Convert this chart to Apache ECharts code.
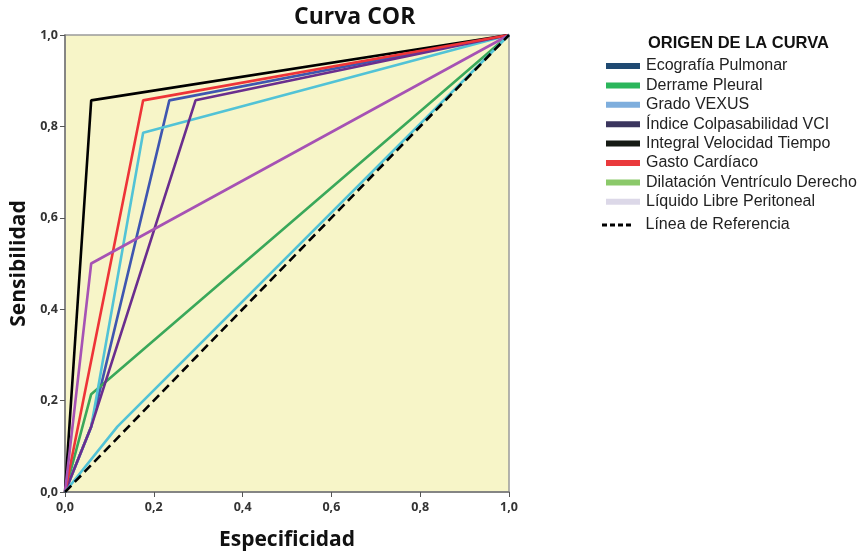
<!DOCTYPE html>
<html>
<head>
<meta charset="utf-8">
<script src="https://cdn.jsdelivr.net/npm/echarts@6/dist/echarts.min.js"></script>
<style>
  html, body { margin: 0; padding: 0; background: #fff; }
  #chart { width: 866px; height: 556px; }
</style>
</head>
<body>
<div id="chart"></div>
<script>
// puntos [1 - especificidad, sensibilidad]
const ecografiaPulmonar = [[0, 0], [0.059, 0.143], [0.235, 0.857], [1, 1]];
const derramePleural = [[0, 0], [0.059, 0.214], [1, 1]];
const gradoVexus = [[0, 0], [0.059, 0.143], [0.176, 0.786], [1, 1]];
const indiceVci = [[0, 0], [0.059, 0.143], [0.294, 0.857], [1, 1]];
const integralVelTiempo = [[0, 0], [0.059, 0.857], [1, 1]];
const gastoCardiaco = [[0, 0], [0.176, 0.857], [1, 1]];
const dilatacionVD = [[0, 0], [0.059, 0.5], [1, 1]];
const liquidoPeritoneal = [[0, 0], [0.118, 0.143], [1, 1]];
const lineaReferencia = [[0, 0], [1, 1]];

const axisTicks = [0, 0.2, 0.4, 0.6, 0.8, 1];

// nombre, datos, color de la linea, color de la leyenda
const curvas = [
    ['Ecografía Pulmonar', ecografiaPulmonar, '#3f56b0', '#1f4a72'],
    ['Derrame Pleural', derramePleural, '#3aa85a', '#2bb65b'],
    ['Grado VEXUS', gradoVexus, '#52c3d6', '#7eaedd'],
    ['Índice Colpasabilidad VCI', indiceVci, '#6a2e8e', '#3b355e'],
    ['Integral Velocidad Tiempo', integralVelTiempo, '#000000', '#151a14'],
    ['Gasto Cardíaco', gastoCardiaco, '#ee3438', '#ea3a3c'],
    ['Dilatación Ventrículo Derecho', dilatacionVD, '#a652b4', '#8bc96a'],
    ['Líquido Libre Peritoneal', liquidoPeritoneal, '#52c3d6', '#dcd8e8']
];

const chart = echarts.init(document.getElementById('chart'));

const fmt = v => v.toFixed(1).replace('.', ',');

const series = curvas.map(c => ({
    name: c[0],
    type: 'line',
    data: c[1],
    showSymbol: false,
    symbol: 'none',
    lineStyle: { color: c[2], width: 2.6 },
    itemStyle: { color: c[2] },
    animation: false
}));
series.push({
    name: 'Línea de Referencia',
    type: 'line',
    data: lineaReferencia,
    symbol: 'none',
    z: 5,
    lineStyle: { color: '#000', width: 2.6, type: [9, 5] },
    itemStyle: { color: '#000' },
    animation: false
});

const option = {
    animation: false,
    title: {
        text: 'Curva COR',
        left: 289,
        top: 1,
        textStyle: { fontFamily: 'Open Sans', fontWeight: 'bold', fontSize: 23, color: '#111' }
    },
    graphic: [{
        type: 'text',
        left: 648,
        top: 35,
        style: { text: 'ORIGEN DE LA CURVA', fontFamily: 'Liberation Sans', fontWeight: 'bold', fontSize: 16.5, fill: '#111' }
    }],
    legend: [{
        orient: 'vertical',
        left: 601,
        top: 53,
        itemWidth: 34,
        itemHeight: 6,
        itemGap: 3.4,
        icon: 'rect',
        selectedMode: false,
        textStyle: { fontFamily: 'Liberation Sans', fontSize: 16, color: '#222', padding: [0, 0, 0, 1] },
        data: curvas.map(c => ({ name: c[0], itemStyle: { color: c[3] }, lineStyle: { width: 0 } }))
    }, {
        orient: 'vertical',
        left: 597,
        top: 212,
        itemWidth: 30,
        itemHeight: 3,
        selectedMode: false,
        textStyle: { fontFamily: 'Liberation Sans', fontSize: 16, color: '#222', padding: [0, 0, 0, 9] },
        data: [{
            name: 'Línea de Referencia',
            icon: 'path://M0,0h5v3h-5z M8,0h5v3h-5z M16,0h5v3h-5z M24,0h5v3h-5z',
            itemStyle: { color: '#000' }
        }]
    }],
    grid: {
        left: 65,
        right: 357,
        top: 35,
        bottom: 63,
        show: true,
        backgroundColor: '#f7f5c8',
        borderColor: '#9a9a9a',
        borderWidth: 1.5
    },
    xAxis: {
        type: 'value',
        min: 0,
        max: 1,
        interval: 0.2,
        name: 'Especificidad',
        nameLocation: 'middle',
        nameGap: 38,
        nameTextStyle: { fontFamily: 'Open Sans', fontWeight: 'bold', fontSize: 21, color: '#111' },
        axisLine: { show: true, lineStyle: { color: '#777', width: 1.5 } },
        axisTick: { show: true, inside: false, length: 5, lineStyle: { color: '#555' } },
        axisLabel: {
            formatter: v => axisTicks.includes(+v.toFixed(1)) ? fmt(v) : '',
            fontFamily: 'Open Sans', fontWeight: 'bold', fontSize: 12.5, color: '#333', margin: 9
        },
        splitLine: { show: false }
    },
    yAxis: {
        type: 'value',
        min: 0,
        max: 1,
        interval: 0.2,
        name: 'Sensibilidad',
        nameLocation: 'middle',
        nameGap: 34,
        nameTextStyle: { fontFamily: 'Open Sans', fontWeight: 'bold', fontSize: 21, color: '#111' },
        axisLine: { show: true, lineStyle: { color: '#777', width: 1.5 } },
        axisTick: { show: true, inside: false, length: 5, lineStyle: { color: '#555' } },
        axisLabel: {
            formatter: v => fmt(v),
            fontFamily: 'Open Sans', fontWeight: 'bold', fontSize: 12.5, color: '#333', margin: 7
        },
        splitLine: { show: false }
    },
    series: series
};

chart.setOption(option);
</script>
</body>
</html>
